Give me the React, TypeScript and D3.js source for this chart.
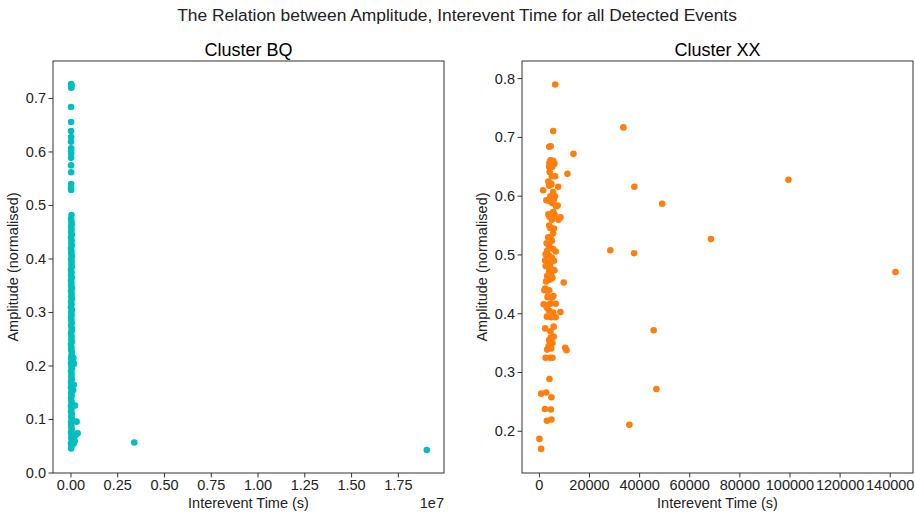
import React from "react";
import * as d3 from "d3";

// ---------- Data ----------
// Cluster BQ: interevent time (s), amplitude (normalised)
const bqTime: number[] = [
  10000, 30000, 5000, 45000, 20000, 40000, 8000, 35000, 25000, 15000,
  12000, 50000, 18000, 42000, 6000, 28000, 3000, 38000, 22000, 9000,
  33000, 14000, 47000, 2000, 26000, 11000, 39000, 17000, 31000, 7000,
  44000, 21000, 4000, 36000, 13000, 29000, 48000, 16000, 24000, 1000,
  41000, 19000, 34000, 5000, 27000, 46000, 12000, 37000, 23000, 8000,
  32000, 15000, 43000, 3000, 30000, 10000, 40000, 20000, 35000, 6000,
  45000, 18000, 25000, 9000, 38000, 14000, 28000, 2000, 42000, 22000,
  33000, 11000, 47000, 17000, 26000, 7000, 39000, 21000, 31000, 4000,
  44000, 13000, 29000, 16000, 36000, 24000, 10000, 30000,
  300000, 355000, 250000, 214000, 120000, 150000, 160000, 130000, 200000, 150000,
  10000, 30000, 15000, 5000, 8000, 5000, 12000, 4000, 10000, 6000,
  14000, 9000, 5000, 12000, 10000, 6000, 14000,
  3385000, 19020000,
];
const bqAmp: number[] = [
  0.046, 0.050, 0.055, 0.060, 0.065, 0.070, 0.075, 0.080, 0.085, 0.090,
  0.095, 0.100, 0.105, 0.110, 0.115, 0.120, 0.125, 0.130, 0.135, 0.140,
  0.145, 0.150, 0.155, 0.160, 0.165, 0.170, 0.175, 0.180, 0.185, 0.190,
  0.195, 0.200, 0.205, 0.210, 0.215, 0.220, 0.225, 0.230, 0.235, 0.240,
  0.245, 0.250, 0.255, 0.260, 0.265, 0.270, 0.275, 0.280, 0.285, 0.290,
  0.295, 0.300, 0.305, 0.310, 0.315, 0.320, 0.325, 0.330, 0.335, 0.340,
  0.345, 0.350, 0.355, 0.360, 0.365, 0.370, 0.375, 0.380, 0.385, 0.390,
  0.395, 0.400, 0.405, 0.410, 0.415, 0.420, 0.425, 0.430, 0.435, 0.440,
  0.445, 0.450, 0.455, 0.460, 0.465, 0.470, 0.475, 0.482,
  0.096, 0.074, 0.071, 0.126, 0.155, 0.165, 0.204, 0.215, 0.060, 0.055,
  0.727, 0.724, 0.720, 0.684, 0.656, 0.639, 0.628, 0.619, 0.607, 0.602,
  0.597, 0.589, 0.575, 0.562, 0.540, 0.533, 0.529,
  0.057, 0.043,
];

// Cluster XX: interevent time (s), amplitude (normalised)
const xxTime: number[] = [
  6300, 5500, 3900, 4500, 13600, 11200, 4400, 5500, 4000, 6000,
  3900, 4100, 5000, 6300, 3600, 4400, 3900, 7500, 1500, 5500,
  4400, 5700, 2800, 3900, 5200, 6700, 7300, 5500, 3600, 6000,
  8400, 7600, 5000, 3900, 4400, 5500, 4400, 5000, 3900, 5500,
  6500, 3100, 2500, 3900, 5000, 2300, 3600, 2500, 4400, 6000,
  3900, 3100, 5200, 4100, 9700, 2300, 3900, 3300, 4900, 1700,
  3300, 4400, 6500, 8400, 3900, 5500, 4700, 6500, 2300, 5700,
  4400, 5700, 3900, 5200, 3100, 4700, 10300, 10800, 2500, 4400,
  5200, 4000, 700, 2700, 2200, 4600, 4800, 3000, 4800, 0,
  700, 2000, 3000, 4800, 2700, 5800, 3500, 6200, 4200, 5800,
  3000, 4600, 3700, 4800, 5200, 2900, 4000, 3400, 5600,
  33500, 99400, 37900, 49000, 68450, 28300, 37800, 142100, 45600, 46700, 35900,
];
const xxAmp: number[] = [
  0.790, 0.711, 0.684, 0.685, 0.672, 0.638, 0.661, 0.660, 0.657, 0.655,
  0.650, 0.641, 0.634, 0.634, 0.625, 0.622, 0.618, 0.616, 0.610, 0.607,
  0.600, 0.594, 0.593, 0.592, 0.588, 0.583, 0.584, 0.573, 0.569, 0.569,
  0.564, 0.560, 0.560, 0.550, 0.546, 0.537, 0.530, 0.524, 0.515, 0.510,
  0.506, 0.507, 0.501, 0.499, 0.495, 0.491, 0.487, 0.481, 0.478, 0.474,
  0.472, 0.464, 0.461, 0.458, 0.453, 0.443, 0.440, 0.428, 0.427, 0.416,
  0.415, 0.417, 0.417, 0.403, 0.405, 0.402, 0.394, 0.394, 0.375, 0.378,
  0.370, 0.361, 0.355, 0.350, 0.339, 0.341, 0.342, 0.338, 0.325, 0.325,
  0.325, 0.289, 0.264, 0.266, 0.238, 0.237, 0.258, 0.218, 0.220, 0.187,
  0.170, 0.440, 0.395, 0.470, 0.455, 0.545, 0.530, 0.600, 0.485, 0.490,
  0.410, 0.360, 0.345, 0.620, 0.650, 0.520, 0.565, 0.430, 0.430,
  0.717, 0.628, 0.616, 0.587, 0.527, 0.508, 0.503, 0.471, 0.372, 0.272, 0.211,
];

const bqXTicks = [0, 0.25e7, 0.5e7, 0.75e7, 1.0e7, 1.25e7, 1.5e7, 1.75e7];
const bqYTicks = [0, 0.1, 0.2, 0.3, 0.4, 0.5, 0.6, 0.7];
const xxXTicks = [0, 20000, 40000, 60000, 80000, 100000, 120000, 140000];
const xxYTicks = [0.2, 0.3, 0.4, 0.5, 0.6, 0.7, 0.8];

const FONT = "'Liberation Sans', Arial, sans-serif";

type PanelProps = {
  left: number;
  right: number;
  top: number;
  bottom: number;
  title: string;
  times: number[];
  amps: number[];
  xDomain: [number, number];
  yDomain: [number, number];
  xTicks: number[];
  yTicks: number[];
  xFmt: (v: number) => string;
  color: string;
  offsetText?: string;
};

function Panel(p: PanelProps) {
  const x = d3.scaleLinear().domain(p.xDomain).range([p.left, p.right]);
  const y = d3.scaleLinear().domain(p.yDomain).range([p.bottom, p.top]);
  const yFmt = d3.format(".1f");
  const cx = (p.left + p.right) / 2;
  return (
    <g>
      <text x={cx} y={56} textAnchor="middle" fontSize={18} fontFamily={FONT} fill="#000">
        {p.title}
      </text>
      {p.times.map((t, i) => (
        <circle key={i} cx={x(t)} cy={y(p.amps[i])} r={3.3} fill={p.color} />
      ))}
      <rect
        x={p.left}
        y={p.top}
        width={p.right - p.left}
        height={p.bottom - p.top}
        fill="none"
        stroke="#333"
        strokeWidth={1}
      />
      {p.xTicks.map((t) => (
        <g key={"x" + t}>
          <line x1={x(t)} x2={x(t)} y1={p.bottom} y2={p.bottom + 4.5} stroke="#333" strokeWidth={1} />
          <text x={x(t)} y={p.bottom + 17} textAnchor="middle" fontSize={14.5} fontFamily={FONT} fill="#222">
            {p.xFmt(t)}
          </text>
        </g>
      ))}
      {p.yTicks.map((t) => (
        <g key={"y" + t}>
          <line x1={p.left - 4.5} x2={p.left} y1={y(t)} y2={y(t)} stroke="#333" strokeWidth={1} />
          <text x={p.left - 7} y={y(t) + 5} textAnchor="end" fontSize={14.5} fontFamily={FONT} fill="#222">
            {yFmt(t)}
          </text>
        </g>
      ))}
      <text x={cx} y={508} textAnchor="middle" fontSize={14.5} fontFamily={FONT} fill="#222">
        Interevent Time (s)
      </text>
      {p.offsetText && (
        <text x={p.right} y={508} textAnchor="end" fontSize={14.5} fontFamily={FONT} fill="#222">
          {p.offsetText}
        </text>
      )}
      <text
        transform={`translate(${p.left - 35},${(p.top + p.bottom) / 2}) rotate(-90)`}
        textAnchor="middle"
        fontSize={14.5}
        fontFamily={FONT}
        fill="#222"
      >
        Amplitude (normalised)
      </text>
    </g>
  );
}

export default function App() {
  return (
    <svg
      width={915}
      height={516}
      style={{ position: "absolute", left: 0, top: 0, background: "#fff" }}
    >
      <rect x={0} y={0} width={915} height={516} fill="#fff" />
      <text x={457} y={21} textAnchor="middle" fontSize={17.4} fontFamily={FONT} fill="#222">
        The Relation between Amplitude, Interevent Time for all Detected Events
      </text>
      <Panel
        left={53}
        right={444}
        top={61}
        bottom={473}
        title="Cluster BQ"
        times={bqTime}
        amps={bqAmp}
        xDomain={[-0.096e7, 1.994e7]}
        yDomain={[0, 0.77]}
        xTicks={bqXTicks}
        yTicks={bqYTicks}
        xFmt={(v) => d3.format(".2f")(v / 1e7)}
        color="#00bfbf"
        offsetText="1e7"
      />
      <Panel
        left={522}
        right={913}
        top={61}
        bottom={473}
        title="Cluster XX"
        times={xxTime}
        amps={xxAmp}
        xDomain={[-6940, 149090]}
        yDomain={[0.129, 0.83]}
        xTicks={xxXTicks}
        yTicks={xxYTicks}
        xFmt={(v) => String(v)}
        color="#ff7f0e"
      />
    </svg>
  );
}
